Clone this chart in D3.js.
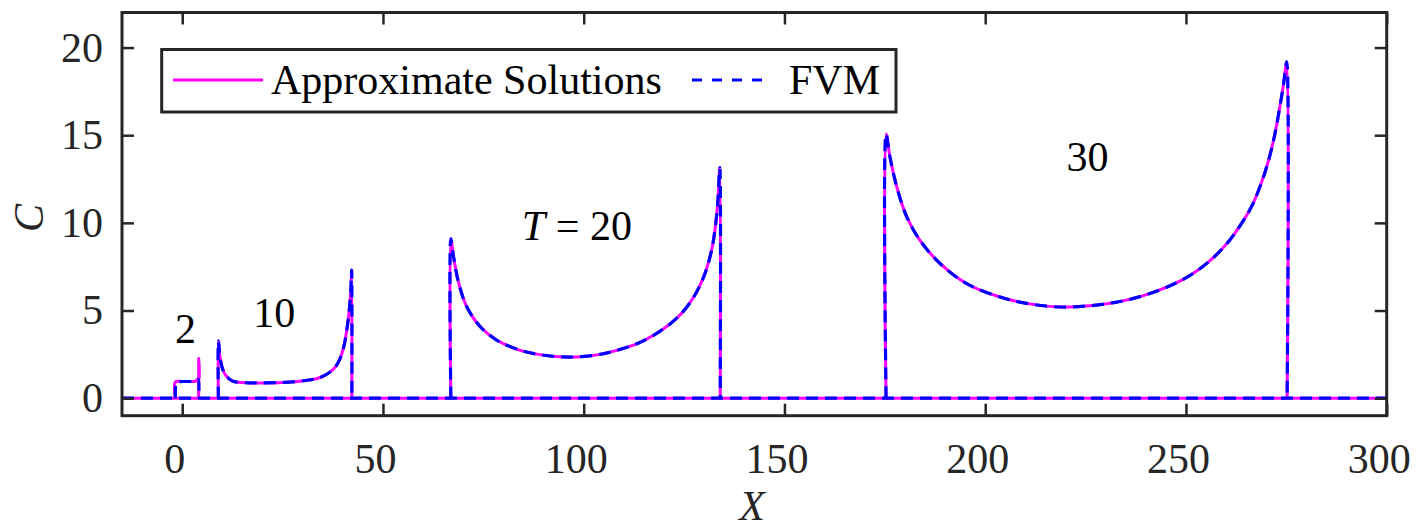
<!DOCTYPE html>
<html>
<head>
<meta charset="utf-8">
<script src="https://cdn.jsdelivr.net/npm/d3@7"></script>
<style>
  html, body { margin: 0; padding: 0; background: #fff; }
  svg { display: block; font-family: "Liberation Serif", "Times New Roman", serif; }
</style>
</head>
<body>
<svg id="chart" width="1420" height="529"></svg>
<script>
// Axis settings
const xDomain = [-15, 300];
const yDomain = [-1, 22];
const xTicks = [0, 50, 100, 150, 200, 250, 300];
const yTicks = [0, 5, 10, 15, 20];

// Concentration profiles C(X) at each time T (approximate solutions)
const t2X   = [-1.7, -1.7, 0, 2, 3.3, 3.7, 4.1, 4.1, 4.1];
const t2C   = [0, 0.93, 0.95, 0.95, 0.96, 1.06, 1.06, 2.26, 0];

const t10X  = [9.0, 9.0, 9.4, 10.0, 10.8, 11.8, 12.8, 15, 17, 20, 25, 29.4, 32, 33.6, 35.5, 36.9, 38.2, 39.2, 40.2, 41.0, 41.6, 42.0, 42.2, 42.25];
const t10C  = [0, 3.26, 2.35, 1.7, 1.31, 1.08, 0.95, 0.89, 0.87, 0.87, 0.9, 0.97, 1.05, 1.12, 1.3, 1.5, 1.8, 2.2, 2.9, 3.9, 5.0, 6.2, 7.3, 0];

const t20X  = [66.9, 66.9, 67.6, 68.9, 70.9, 74.3, 78.4, 84.2, 89.5, 95.0, 100, 105, 109, 113.3, 117.5, 121.6, 124.8, 127.4, 129.3, 130.7, 132.0, 132.8, 133.4, 133.9, 134.0];
const t20C  = [0, 9.09, 8.04, 6.53, 5.2, 4.06, 3.3, 2.73, 2.47, 2.35, 2.38, 2.54, 2.78, 3.11, 3.6, 4.25, 4.95, 5.77, 6.6, 7.45, 8.6, 9.8, 11.2, 13.15, 0];

const t30X  = [175.3, 175.3, 176.3, 178.0, 180.5, 183.8, 188.8, 195.4, 203.7, 211, 218.6, 226, 232.8, 239, 245.2, 251, 256.0, 260.5, 264.3, 266.5, 268.5, 270.5, 272.0, 273.3, 274.3, 275.1, 275.2];
const t30C  = [0, 15.07, 13.73, 12.03, 10.32, 8.99, 7.67, 6.53, 5.77, 5.38, 5.2, 5.27, 5.48, 5.82, 6.33, 7.0, 7.85, 8.9, 10.13, 11.0, 12.1, 13.5, 14.9, 16.5, 17.9, 19.18, 0];

// FVM reference solution; at T = 2 it differs near the front
const t2FvmX = [-1.7, -1.65, -1.5, -1.2, 0, 2, 3.3, 3.7, 4.0, 4.1];
const t2FvmC = [0, 0.75, 0.88, 0.93, 0.95, 0.95, 0.96, 1.05, 1.08, 0];

// Time labels next to each profile
const timeLabels = ["2", "10", "20", "30"];
const labelX = [0.8, 22.9, 98.3, 225.5];
const labelC = [3.13, 4.05, 9.0, 12.98];

const seriesNames = ["Approximate Solutions", "FVM"];

const svg = d3.select("#chart");
const margin = { left: 122, right: 1386.7, top: 12.5, bottom: 415.7 };

const x = d3.scaleLinear().domain(xDomain).range([margin.left, margin.right]);
const y = d3.scaleLinear().domain(yDomain).range([margin.bottom, margin.top]);

const axisColor = "#262626";
const fontSize = 42;

// Clip region for the plot area
svg.append("defs").append("clipPath").attr("id", "plotClip")
  .append("rect")
  .attr("x", margin.left).attr("y", margin.top)
  .attr("width", margin.right - margin.left)
  .attr("height", margin.bottom - margin.top);

const zip = (xs, cs) => xs.map((v, i) => [v, cs[i]]);

const approxCurves = [
  [[xDomain[0], 0], [xDomain[1], 0]],
  zip(t2X, t2C), zip(t10X, t10C), zip(t20X, t20C), zip(t30X, t30C)
];
const fvmCurves = [
  [[xDomain[0], 0], [xDomain[1], 0]],
  zip(t2FvmX, t2FvmC), zip(t10X, t10C), zip(t20X, t20C), zip(t30X, t30C)
];

const line = d3.line()
  .x(d => x(d[0]))
  .y(d => y(d[1]))
  .curve(d3.curveCatmullRom.alpha(0.5));

const plot = svg.append("g").attr("clip-path", "url(#plotClip)");

plot.selectAll("path.approx")
  .data(approxCurves)
  .join("path")
  .attr("class", "approx")
  .attr("d", line)
  .attr("fill", "none")
  .attr("stroke", "#ff00ff")
  .attr("stroke-width", 3)
  .attr("stroke-linejoin", "round");

plot.selectAll("path.fvm")
  .data(fvmCurves)
  .join("path")
  .attr("class", "fvm")
  .attr("d", line)
  .attr("fill", "none")
  .attr("stroke", "#0000ff")
  .attr("stroke-width", 3.2)
  .attr("stroke-dasharray", "12,7");

// Axes: bottom / left with labels, top / right ticks only; ticks point inward
const bottomAxis = svg.append("g")
  .attr("transform", `translate(0,${margin.bottom})`)
  .call(d3.axisBottom(x).tickValues(xTicks).tickSize(-12).tickPadding(27).tickSizeOuter(0));
bottomAxis.selectAll("text").attr("dx", -8);

svg.append("g")
  .attr("transform", `translate(${margin.left},0)`)
  .call(d3.axisLeft(y).tickValues(yTicks).tickSize(-12).tickPadding(19).tickSizeOuter(0));

svg.append("g")
  .attr("transform", `translate(0,${margin.top})`)
  .call(d3.axisTop(x).tickValues(xTicks).tickSize(-12).tickFormat("").tickSizeOuter(0));

svg.append("g")
  .attr("transform", `translate(${margin.right},0)`)
  .call(d3.axisRight(y).tickValues(yTicks).tickSize(-12).tickFormat("").tickSizeOuter(0));

svg.selectAll(".domain").remove();
svg.selectAll(".tick line").attr("stroke", axisColor).attr("stroke-width", 2.5);
svg.selectAll(".tick text")
  .attr("fill", axisColor)
  .style("font-family", "'Liberation Serif', serif")
  .style("font-size", fontSize + "px");

svg.append("rect")
  .attr("x", margin.left).attr("y", margin.top)
  .attr("width", margin.right - margin.left)
  .attr("height", margin.bottom - margin.top)
  .attr("fill", "none")
  .attr("stroke", axisColor)
  .attr("stroke-width", 3);

// Axis titles
svg.append("text")
  .attr("x", 752).attr("y", 520)
  .attr("text-anchor", "middle")
  .style("font-size", fontSize + "px")
  .style("font-style", "italic")
  .attr("fill", axisColor)
  .text("X");

svg.append("text")
  .attr("transform", "translate(43,218) rotate(-90)")
  .attr("text-anchor", "middle")
  .style("font-size", fontSize + "px")
  .style("font-style", "italic")
  .attr("fill", axisColor)
  .text("C");

// Time annotations
const labelG = svg.append("g");
timeLabels.forEach((t, i) => {
  const txt = labelG.append("text")
    .attr("x", x(labelX[i])).attr("y", y(labelC[i]))
    .attr("text-anchor", "middle")
    .style("font-size", fontSize + "px")
    .attr("fill", "#000");
  if (i === 2) {
    txt.append("tspan").style("font-style", "italic").text("T");
    txt.append("tspan").text(" = " + t);
  } else {
    txt.text(t);
  }
});

// Legend
const legend = svg.append("g");
legend.append("rect")
  .attr("x", 161.7).attr("y", 49.5)
  .attr("width", 896 - 161.7).attr("height", 112 - 49.5)
  .attr("fill", "#fff")
  .attr("stroke", axisColor)
  .attr("stroke-width", 3);

legend.append("line")
  .attr("x1", 173).attr("x2", 263).attr("y1", 80).attr("y2", 80)
  .attr("stroke", "#ff00ff").attr("stroke-width", 3);
legend.append("text")
  .attr("x", 271).attr("y", 94)
  .style("font-size", fontSize + "px")
  .attr("fill", "#000")
  .text(seriesNames[0]);

legend.append("line")
  .attr("x1", 692).attr("x2", 772).attr("y1", 80).attr("y2", 80)
  .attr("stroke", "#0000ff").attr("stroke-width", 3)
  .attr("stroke-dasharray", "10,10");
legend.append("text")
  .attr("x", 789).attr("y", 94)
  .style("font-size", fontSize + "px")
  .attr("fill", "#000")
  .text(seriesNames[1]);
</script>
</body>
</html>
